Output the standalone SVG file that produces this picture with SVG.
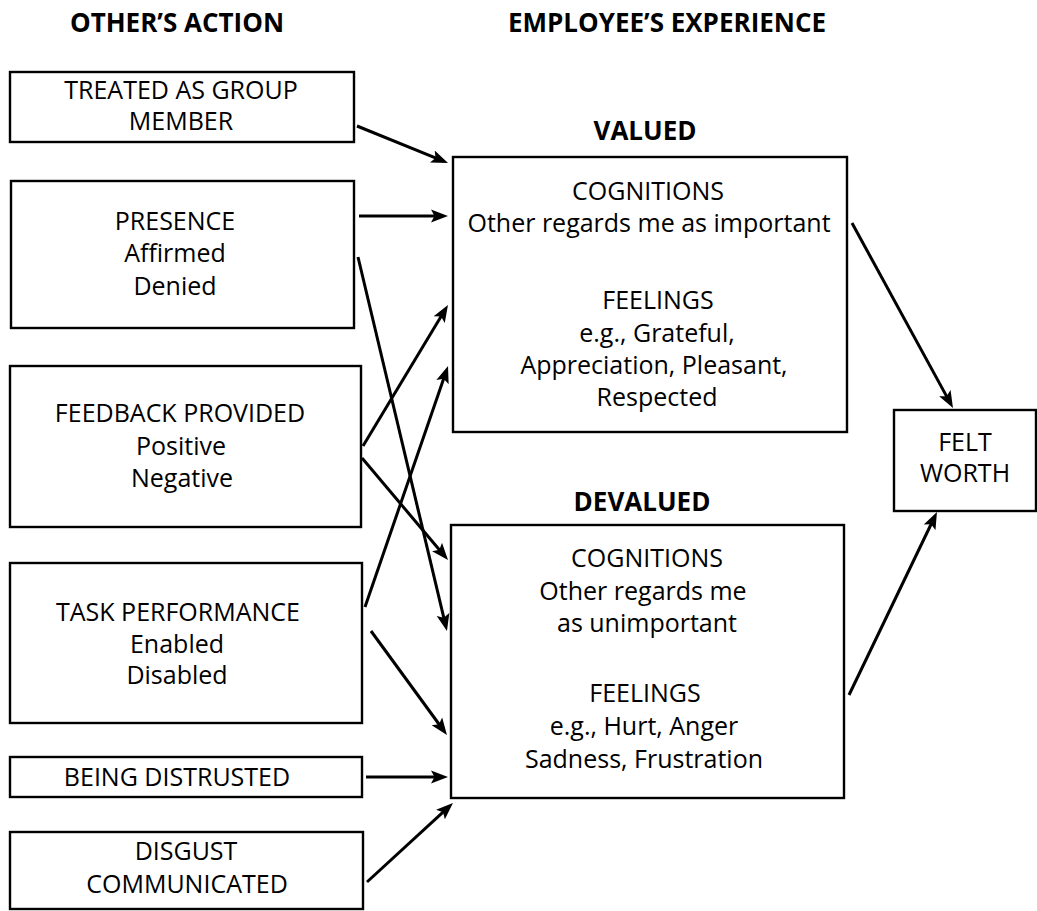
<svg xmlns="http://www.w3.org/2000/svg" width="1037" height="911" viewBox="0 0 1037 911">
  <style>
    .box { fill: #fff; stroke: #000; stroke-width: 2.4; }
    .t { font-family: "Open Sans", "Liberation Sans", sans-serif; font-size: 25px; fill: #000; text-anchor: middle; }
    .h { font-family: "Open Sans", "Liberation Sans", sans-serif; font-size: 26px; font-weight: 700; fill: #000; text-anchor: middle; }
    .c { stroke: #000; stroke-width: 3; fill: none; marker-end: url(#arrow); }
  </style>
  <defs>
    <marker id="arrow" markerUnits="userSpaceOnUse" markerWidth="18" markerHeight="14" viewBox="0 0 18 14" refX="12" refY="7" orient="auto">
      <path d="M0,0.5 L17,7 L0,13.5 L3.5,7 z" fill="#000"/>
    </marker>
  </defs>
  <rect width="1037" height="911" fill="#fff"/>

  <!-- column headings -->
  <g id="headings">
    <text class="h" x="177" y="32">OTHER’S ACTION</text>
    <text class="h" x="667" y="32">EMPLOYEE’S EXPERIENCE</text>
  </g>

  <!-- actions of others -->
  <g id="treated">
    <rect class="box" x="10" y="72" width="344" height="70"/>
    <text class="t" x="181" y="99">TREATED AS GROUP</text>
    <text class="t" x="181" y="130">MEMBER</text>
  </g>
  <g id="presence">
    <rect class="box" x="11" y="181" width="343" height="147"/>
    <text class="t" x="175" y="230">PRESENCE</text>
    <text class="t" x="175" y="262">Affirmed</text>
    <text class="t" x="175" y="295">Denied</text>
  </g>
  <g id="feedback">
    <rect class="box" x="10" y="366" width="351" height="161"/>
    <text class="t" x="180" y="422">FEEDBACK PROVIDED</text>
    <text class="t" x="181" y="455">Positive</text>
    <text class="t" x="182" y="487">Negative</text>
  </g>
  <g id="task">
    <rect class="box" x="10" y="563" width="352" height="160"/>
    <text class="t" x="178" y="621">TASK PERFORMANCE</text>
    <text class="t" x="177" y="653">Enabled</text>
    <text class="t" x="177" y="684">Disabled</text>
  </g>
  <g id="distrusted">
    <rect class="box" x="10" y="757" width="352" height="40"/>
    <text class="t" x="177" y="786">BEING DISTRUSTED</text>
  </g>
  <g id="disgust">
    <rect class="box" x="10" y="832" width="353" height="77"/>
    <text class="t" x="186" y="860">DISGUST</text>
    <text class="t" x="187" y="893">COMMUNICATED</text>
  </g>

  <!-- employee's experience -->
  <g id="valued">
    <text class="h" x="645" y="140">VALUED</text>
    <rect class="box" x="453" y="157" width="394" height="275"/>
    <text class="t" x="648" y="200">COGNITIONS</text>
    <text class="t" x="649" y="232">Other regards me as important</text>
    <text class="t" x="658" y="309">FEELINGS</text>
    <text class="t" x="657" y="342">e.g., Grateful,</text>
    <text class="t" x="654" y="374">Appreciation, Pleasant,</text>
    <text class="t" x="657" y="406">Respected</text>
  </g>
  <g id="devalued">
    <text class="h" x="642" y="511">DEVALUED</text>
    <rect class="box" x="451" y="525" width="393" height="273"/>
    <text class="t" x="647" y="567">COGNITIONS</text>
    <text class="t" x="643" y="600">Other regards me</text>
    <text class="t" x="647" y="632">as unimportant</text>
    <text class="t" x="645" y="702">FEELINGS</text>
    <text class="t" x="644" y="735">e.g., Hurt, Anger</text>
    <text class="t" x="644" y="768">Sadness, Frustration</text>
  </g>
  <g id="felt-worth">
    <rect class="box" x="894" y="410" width="142" height="101"/>
    <text class="t" x="965" y="451">FELT</text>
    <text class="t" x="965" y="482">WORTH</text>
  </g>

  <!-- connectors -->
  <g id="connectors">
    <line class="c" x1="357" y1="126" x2="443.4" y2="161.1"/>
    <line class="c" x1="359" y1="216" x2="443" y2="216"/>
    <line class="c" x1="358" y1="257" x2="445.8" y2="626.1"/>
    <line class="c" x1="363" y1="446" x2="445.4" y2="309.3"/>
    <line class="c" x1="362" y1="458" x2="444.8" y2="556.2"/>
    <line class="c" x1="365" y1="607" x2="446.4" y2="370.7"/>
    <line class="c" x1="371" y1="631" x2="444" y2="731"/>
    <line class="c" x1="366" y1="777" x2="443" y2="777"/>
    <line class="c" x1="367" y1="882" x2="449.3" y2="806.4"/>
    <line class="c" x1="852" y1="223" x2="950.6" y2="403.6"/>
    <line class="c" x1="849" y1="695" x2="934.8" y2="516.5"/>
  </g>
</svg>
